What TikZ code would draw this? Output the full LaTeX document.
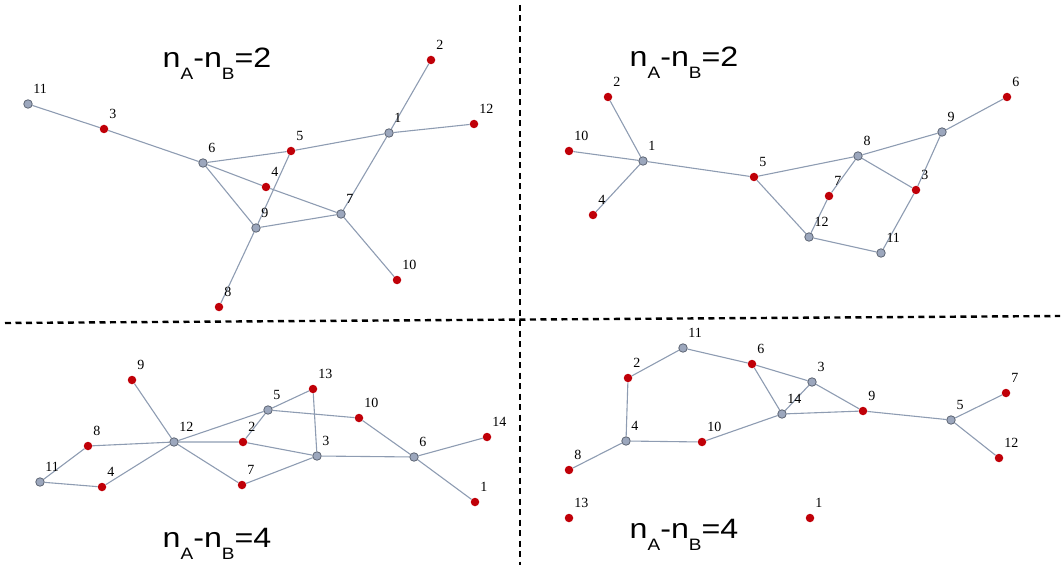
\documentclass[tikz,border=0pt]{standalone}
\usepackage{xcolor}
\usepackage{tikz}
\usepackage{fontspec}
\setmainfont{Liberation Serif}
\newfontfamily\titlefont{Liberation Sans}
\usetikzlibrary{backgrounds}
\definecolor{vtxred}{HTML}{C00008}
\definecolor{vtxgray}{HTML}{9CA7BD}
\definecolor{vtxrim}{HTML}{5C6473}
\definecolor{edgegray}{HTML}{8E9CB2}
\newcommand{\nanb}[1]{\scalebox{1.15}[1]{\titlefont\fontsize{28}{28}\selectfont
  n\raisebox{-12pt}{\fontsize{16.5}{16.5}\selectfont A}-n\raisebox{-12pt}{\fontsize{16.5}{16.5}\selectfont B}=#1}}

\begin{document}
\begin{tikzpicture}[x=1pt,y=-1pt,
  lbl/.style={font=\fontsize{14}{14}\selectfont, inner sep=0pt, xshift=2pt, yshift=7pt},
  redv/.style={circle, fill=vtxred, minimum size=8.5pt, inner sep=0pt, label={[lbl]above right:#1}},
  grayv/.style={circle, fill=vtxgray, draw=vtxrim, line width=0.8pt, minimum size=8.5pt, inner sep=0pt, label={[lbl]above right:#1}},
  edge/.style={edgegray, line width=1.1pt},
  sep/.style={black, line width=2.4pt, dash pattern=on 6pt off 4.5pt},
  title/.style={anchor=base, inner sep=0pt}]
  \useasboundingbox (0,0) rectangle (1062,569);

  % separators
  \draw[sep] (5,323) -- (1060,316);
  \draw[sep] (520,5) -- (520,565);

  % titles
  \node[title] (ta) at (217,68) {\nanb{2}};
  \node[title] (tb) at (684,67) {\nanb{2}};
  \node[title] (tc) at (217,547) {\nanb{4}};
  \node[title] (td) at (684,538) {\nanb{4}};

  % top left
  \node[grayv=1] (a1) at (389,133) {};
  \node[redv=2] (a2) at (431,60) {};
  \node[redv=3] (a3) at (104,129) {};
  \node[redv=4] (a4) at (266,187) {};
  \node[redv=5] (a5) at (291,151) {};
  \node[grayv=6] (a6) at (203,163) {};
  \node[grayv=7] (a7) at (341,214) {};
  \node[redv=8] (a8) at (219,307) {};
  \node[grayv=9] (a9) at (256,228) {};
  \node[redv=10] (a10) at (397,280) {};
  \node[grayv=11] (a11) at (28,104) {};
  \node[redv=12] (a12) at (474,124) {};

  % top right
  \node[grayv=1] (b1) at (643,161) {};
  \node[redv=2] (b2) at (608,97) {};
  \node[redv=3] (b3) at (916,190) {};
  \node[redv=4] (b4) at (593,215) {};
  \node[redv=5] (b5) at (754,177) {};
  \node[redv=6] (b6) at (1007,97) {};
  \node[redv=7] (b7) at (829,196) {};
  \node[grayv=8] (b8) at (858,156) {};
  \node[grayv=9] (b9) at (942,132) {};
  \node[redv=10] (b10) at (569,151) {};
  \node[grayv=11] (b11) at (881,253) {};
  \node[grayv=12] (b12) at (809,237) {};

  % bottom left
  \node[redv=1] (c1) at (475,502) {};
  \node[redv=2] (c2) at (243,442) {};
  \node[grayv=3] (c3) at (317,456) {};
  \node[redv=4] (c4) at (102,487) {};
  \node[grayv=5] (c5) at (268,410) {};
  \node[grayv=6] (c6) at (414,457) {};
  \node[redv=7] (c7) at (242,485) {};
  \node[redv=8] (c8) at (88,446) {};
  \node[redv=9] (c9) at (132,380) {};
  \node[redv=10] (c10) at (359,418) {};
  \node[grayv=11] (c11) at (40,482) {};
  \node[grayv=12] (c12) at (174,442) {};
  \node[redv=13] (c13) at (313,389) {};
  \node[redv=14] (c14) at (487,437) {};

  % bottom right
  \node[redv=1] (d1) at (810,518) {};
  \node[redv=2] (d2) at (628,378) {};
  \node[grayv=3] (d3) at (812,382) {};
  \node[grayv=4] (d4) at (626,441) {};
  \node[grayv=5] (d5) at (951,420) {};
  \node[redv=6] (d6) at (752,364) {};
  \node[redv=7] (d7) at (1006,393) {};
  \node[redv=8] (d8) at (569,470) {};
  \node[redv=9] (d9) at (863,411) {};
  \node[redv=10] (d10) at (702,442) {};
  \node[grayv=11] (d11) at (683,348) {};
  \node[redv=12] (d12) at (999,458) {};
  \node[redv=13] (d13) at (569,518) {};
  \node[grayv=14] (d14) at (782,414) {};

  \begin{scope}[on background layer]
    \draw[edge] (a11) -- (a3) -- (a6) -- (a5) -- (a1) -- (a2);
    \draw[edge] (a1) -- (a12);
    \draw[edge] (a1) -- (a7) -- (a10);
    \draw[edge] (a6) -- (a4) -- (a7) -- (a9) -- (a6);
    \draw[edge] (a5) -- (a9) -- (a8);

    \draw[edge] (b2) -- (b1) -- (b10);
    \draw[edge] (b4) -- (b1) -- (b5) -- (b8) -- (b9) -- (b6);
    \draw[edge] (b9) -- (b3) -- (b8) -- (b7) -- (b12) -- (b5);
    \draw[edge] (b12) -- (b11) -- (b3);

    \draw[edge] (c9) -- (c12) -- (c5) -- (c13) -- (c3) -- (c6) -- (c14);
    \draw[edge] (c5) -- (c10) -- (c6) -- (c1);
    \draw[edge] (c5) -- (c2) -- (c12) -- (c8) -- (c11) -- (c4) -- (c12) -- (c7) -- (c3) -- (c2);

    \draw[edge] (d8) -- (d4) -- (d2) -- (d11) -- (d6) -- (d3) -- (d9) -- (d5) -- (d7);
    \draw[edge] (d5) -- (d12);
    \draw[edge] (d4) -- (d10) -- (d14) -- (d9);
    \draw[edge] (d6) -- (d14) -- (d3);
  \end{scope}
\end{tikzpicture}
\end{document}
